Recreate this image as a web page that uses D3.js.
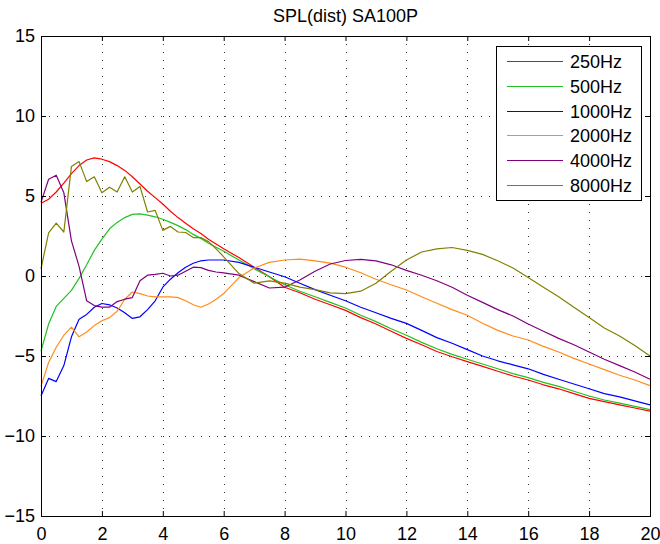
<!DOCTYPE html>
<meta charset="utf-8">
<title>SPL(dist) SA100P</title>
<script src="https://d3js.org/d3.v7.min.js"></script>
<style>
body {
	margin: 0;
	background: #fff;
}
</style>
<body>
<script>
// Distance axis (0.25 steps near the source, 0.5 further out)
const dist = [
	0, 0.25, 0.5, 0.75, 1, 1.25, 1.5, 1.75, 2, 2.25, 2.5, 2.75, 3, 3.25, 3.5, 3.75, 4, 4.25, 4.5, 4.75, 5, 5.25, 5.5, 5.75, 6,
	6.5, 7, 7.5, 8, 8.5, 9, 9.5, 10, 10.5, 11, 11.5, 12, 12.5, 13, 13.5, 14, 14.5, 15, 15.5, 16, 16.5, 17, 17.5, 18, 18.5, 19, 19.5, 20,
];
const spl250 = [
	4.55, 4.8, 5.25, 5.8, 6.4, 6.9, 7.25, 7.38, 7.3, 7.15, 6.9, 6.6, 6.2, 5.75, 5.3, 4.9, 4.5, 4.05, 3.65, 3.3, 2.95, 2.65, 2.3, 2.0, 1.7,
	1.15, 0.55, -0.05, -0.7, -1.05, -1.45, -1.8, -2.15, -2.6, -3.0, -3.45, -3.9, -4.3, -4.72, -5.05, -5.35, -5.65, -5.95, -6.25, -6.5, -6.8, -7.05, -7.35, -7.65, -7.85, -8.05, -8.25, -8.45,
];
const spl500 = [
	-4.7, -3.0, -1.9, -1.4, -0.9, -0.15, 0.7, 1.6, 2.3, 2.95, 3.35, 3.65, 3.85, 3.88, 3.8, 3.7, 3.55, 3.35, 3.15, 2.9, 2.6, 2.35, 2.05, 1.8, 1.55,
	1.0, 0.45, -0.05, -0.55, -0.95, -1.3, -1.65, -2.0, -2.45, -2.85, -3.3, -3.7, -4.15, -4.55, -4.9, -5.2, -5.5, -5.8, -6.1, -6.35, -6.65, -6.9, -7.2, -7.5, -7.75, -7.95, -8.15, -8.35,
];
const spl1000 = [
	-7.5, -6.4, -6.6, -5.6, -3.8, -2.7, -2.4, -1.95, -1.72, -1.8, -2.0, -2.3, -2.65, -2.55, -2.1, -1.55, -0.7, -0.2, 0.2, 0.55, 0.8, 0.95, 1.0, 1.0, 1.0,
	0.85, 0.55, 0.25, -0.05, -0.45, -0.85, -1.2, -1.55, -1.95, -2.3, -2.65, -2.96, -3.4, -3.85, -4.2, -4.6, -5.0, -5.3, -5.55, -5.8, -6.15, -6.45, -6.75, -7.05, -7.35, -7.55, -7.8, -8.05,
];
const spl2000 = [
	-6.9, -5.4, -4.45, -3.7, -3.2, -3.8, -3.5, -3.1, -2.8, -2.6, -2.2, -1.45, -1.0, -1.1, -1.25, -1.3, -1.3, -1.3, -1.35, -1.55, -1.8, -1.95, -1.75, -1.45, -1.1,
	-0.1, 0.5, 0.85, 1.0, 1.05, 0.95, 0.8, 0.55, 0.2, -0.2, -0.55, -0.875, -1.3, -1.7, -2.1, -2.45, -2.95, -3.4, -3.75, -4.0, -4.4, -4.75, -5.15, -5.5, -5.85, -6.2, -6.5, -6.85,
];
const spl4000 = [
	4.6, 6.05, 6.3, 5.2, 2.2, 0.6, -1.55, -1.85, -1.95, -1.95, -1.6, -1.45, -1.35, -0.3, 0.05, 0.1, 0.17, 0.0, 0.05, 0.3, 0.55, 0.52, 0.35, 0.25, 0.2,
	0.05, -0.35, -0.75, -0.7, -0.25, 0.3, 0.75, 0.97, 1.04, 0.95, 0.7, 0.35, 0.05, -0.3, -0.7, -1.2, -1.65, -2.1, -2.5, -3.0, -3.45, -3.9, -4.3, -4.75, -5.2, -5.6, -6.0, -6.45,
];
const spl8000 = [
	0.45, 2.7, 3.3, 2.75, 6.85, 7.15, 5.9, 6.2, 5.2, 5.55, 5.25, 6.2, 5.25, 5.6, 4.0, 4.1, 2.85, 3.1, 2.75, 2.72, 2.4, 2.4, 2.15, 1.7, 1.2,
	0.15, -0.45, -0.3, -0.45, -0.7, -0.85, -1.05, -1.1, -0.95, -0.45, 0.3, 1.0, 1.5, 1.7, 1.78, 1.6, 1.35, 0.95, 0.5, -0.1, -0.7, -1.3, -1.95, -2.6, -3.25, -3.75, -4.35, -5.0,
];
const serieNames = ['250Hz', '500Hz', '1000Hz', '2000Hz', '4000Hz', '8000Hz'];
const serieValues = [spl250, spl500, spl1000, spl2000, spl4000, spl8000];
const colors = ['#ff0000', '#22c022', '#0000ff', '#ff8c1a', '#800080', '#808000'];
const xTicks = [0, 2, 4, 6, 8, 10, 12, 14, 16, 18, 20];
const yTicks = [-15, -10, -5, 0, 5, 10, 15];

const fontFamily = 'Liberation Sans, Arial, Helvetica, sans-serif';
const fontSize = 18;
const tickLen = 5;

const margin = {top: 36, right: 10, bottom: 28, left: 41};
const width = 660 - margin.left - margin.right;
const height = 544 - margin.top - margin.bottom;

const x = d3.scaleLinear().domain([0, 20]).range([0, width]);
const y = d3.scaleLinear().domain([-15, 15]).range([height, 0]);

const svg = d3.select('body')
	.append('svg')
		.attr('width', 660)
		.attr('height', 544)
		.attr('font-family', fontFamily);

svg.append('rect')
	.attr('width', 660)
	.attr('height', 544)
	.attr('fill', '#fff');

// Title
svg.append('text')
	.attr('x', margin.left + width / 2)
	.attr('y', 22)
	.attr('text-anchor', 'middle')
	.attr('font-size', fontSize)
	.attr('fill', '#000')
	.text('SPL(dist) SA100P');

const g = svg.append('g')
	.attr('transform', `translate(${margin.left}, ${margin.top})`);

// Dotted grid
const grid = g.append('g')
	.attr('stroke', '#333')
	.attr('stroke-width', 1)
	.attr('stroke-dasharray', '1,7');
grid.selectAll('.gx')
	.data(xTicks.slice(1, -1))
	.enter()
	.append('line')
		.attr('x1', d => Math.round(x(d)) + 0.5)
		.attr('x2', d => Math.round(x(d)) + 0.5)
		.attr('y1', 0)
		.attr('y2', height);
grid.selectAll('.gy')
	.data(yTicks.slice(1, -1))
	.enter()
	.append('line')
		.attr('y1', d => Math.round(y(d)) + 0.5)
		.attr('y2', d => Math.round(y(d)) + 0.5)
		.attr('x1', 0)
		.attr('x2', width);

// Curves
const line = d3.line()
	.x((d, i) => x(dist[i]))
	.y(d => y(d));
g.append('g')
	.attr('fill', 'none')
	.attr('stroke-width', 1.2)
	.attr('stroke-linejoin', 'round')
	.selectAll('path')
	.data(serieValues)
	.enter()
	.append('path')
		.attr('stroke', (d, i) => colors[i])
		.attr('d', line);

// Axes: ticks pointing inward on all four sides
function styleAxis(sel) {
	sel.select('.domain').remove();
	sel.selectAll('line').attr('stroke', '#000');
	sel.selectAll('text')
		.attr('font-size', fontSize)
		.attr('font-family', fontFamily)
		.attr('fill', '#000');
}
g.append('g')
	.attr('transform', `translate(0, ${height})`)
	.call(d3.axisBottom(x).tickValues(xTicks).tickSize(-tickLen).tickPadding(11))
	.call(styleAxis);
g.append('g')
	.call(d3.axisTop(x).tickValues(xTicks).tickSize(-tickLen).tickFormat(''))
	.call(styleAxis);
g.append('g')
	.call(d3.axisLeft(y).tickValues(yTicks).tickSize(-tickLen).tickPadding(6))
	.call(styleAxis);
g.append('g')
	.attr('transform', `translate(${width}, 0)`)
	.call(d3.axisRight(y).tickValues(yTicks).tickSize(-tickLen).tickFormat(''))
	.call(styleAxis);

// Box
g.append('rect')
	.attr('x', 0.5)
	.attr('y', 0.5)
	.attr('width', width)
	.attr('height', height)
	.attr('fill', 'none')
	.attr('stroke', '#000')
	.attr('stroke-width', 1);

// Legend
const legendX = 496 - margin.left;
const legendY = 46 - margin.top;
const legendW = 145;
const legendH = 154;
const rowH = 24.8;
const legend = g.append('g')
	.attr('transform', `translate(${legendX}, ${legendY})`);
legend.append('rect')
	.attr('x', 0.5)
	.attr('y', 0.5)
	.attr('width', legendW)
	.attr('height', legendH)
	.attr('fill', '#fff')
	.attr('stroke', '#000');
const items = legend.selectAll('.item')
	.data(serieNames)
	.enter()
	.append('g')
		.attr('transform', (d, i) => `translate(0, ${Math.round(15 + i * rowH) + 0.5})`);
items.append('line')
	.attr('x1', 11)
	.attr('x2', 67)
	.attr('stroke', (d, i) => colors[i])
	.attr('stroke-width', 1);
items.append('text')
	.attr('x', 74)
	.attr('dy', '0.35em')
	.attr('font-size', fontSize)
	.attr('fill', '#000')
	.text(d => d);
</script>
</body>
